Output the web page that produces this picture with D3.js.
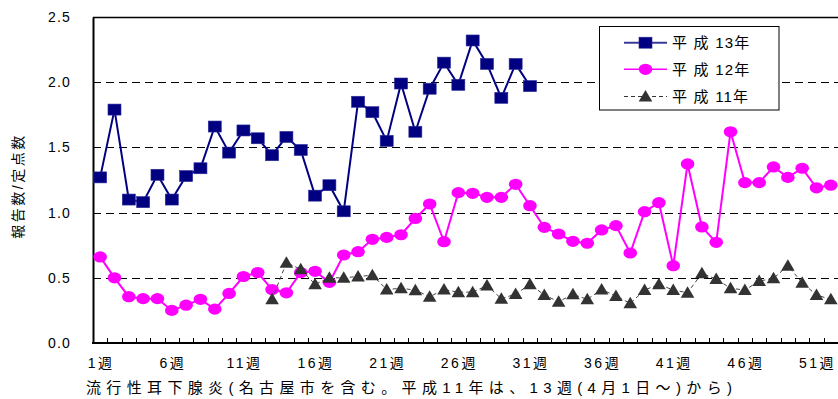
<!DOCTYPE html>
<html><head><meta charset="utf-8">
<script src="https://cdn.jsdelivr.net/npm/d3@7"></script>
<style>
body{margin:0;background:#fff;}
svg{display:block;}
text{font-family:"Liberation Sans","Noto Sans CJK JP",sans-serif;fill:#000;}
</style></head><body>
<script>
const weeks = d3.range(1, 53);
const xLabelWeeks = [1, 6, 11, 16, 21, 26, 31, 36, 41, 46, 51];
const yTicks = [0, 0.5, 1.0, 1.5, 2.0, 2.5];
const seriesNames = ["平 成 13年", "平 成 12年", "平 成 11年"];

// 平成13年: weeks 1-31
const h13 = [1.27,1.79,1.10,1.08,1.29,1.10,1.28,1.34,1.66,1.46,1.63,1.57,1.44,1.58,1.48,1.13,1.21,1.01,1.85,1.77,1.55,1.99,1.62,1.95,2.15,1.98,2.32,2.14,1.88,2.14,1.97];
// 平成12年: weeks 1-52
const h12 = [0.66,0.50,0.355,0.34,0.34,0.25,0.29,0.335,0.26,0.38,0.51,0.54,0.41,0.385,0.54,0.55,0.465,0.675,0.70,0.795,0.81,0.83,0.955,1.066,0.777,1.153,1.148,1.117,1.117,1.217,1.053,0.887,0.836,0.78,0.765,0.867,0.90,0.69,1.007,1.076,0.593,1.373,0.89,0.772,1.62,1.23,1.23,1.35,1.27,1.34,1.19,1.21];
// 平成11年: weeks 13-52
const h11Start = 13;
const h11 = [0.335,0.616,0.565,0.45,0.50,0.50,0.51,0.52,0.41,0.42,0.405,0.355,0.41,0.39,0.39,0.44,0.34,0.375,0.45,0.368,0.317,0.373,0.335,0.41,0.36,0.304,0.406,0.45,0.406,0.386,0.534,0.49,0.42,0.406,0.475,0.496,0.593,0.462,0.368,0.335];

const W = 838, H = 399;
const L = 93, R = 838, T = 17, B = 343;
const svg = d3.select("body").append("svg").attr("width", W).attr("height", H);

const x = d3.scaleBand().domain(weeks).range([L, R]).padding(0);
const y = d3.scaleLinear().domain([0, 2.5]).range([B, T]);
const cx = w => x(w) + x.bandwidth() / 2;

// gridlines
svg.append("g").selectAll("line").data(yTicks.filter(v => v > 0 && v < 2.5)).join("line")
  .attr("x1", L).attr("x2", R).attr("y1", d => Math.round(y(d)) + 0.5).attr("y2", d => Math.round(y(d)) + 0.5)
  .attr("stroke", "#000").attr("stroke-width", 1).attr("stroke-dasharray", "8,5");
// top border
svg.append("line").attr("x1", L).attr("x2", R).attr("y1", Math.round(y(2.5)) + 0.5).attr("y2", Math.round(y(2.5)) + 0.5)
  .attr("stroke", "#000").attr("stroke-width", 1.5);

// y axis
const yAxis = d3.axisLeft(y).tickValues(yTicks).tickSize(0).tickPadding(0).tickFormat(d3.format(".1f"));
const gy = svg.append("g").attr("transform", `translate(${L},0)`).call(yAxis);
gy.select(".domain").attr("stroke", "#000").attr("stroke-width", 2);
gy.selectAll("text").attr("x", -22).attr("font-size", 14).attr("letter-spacing", 1.2)
  .style("font-family", "Liberation Sans, sans-serif");

// x axis
const xAxis = d3.axisBottom(x).tickSize(0).tickValues(xLabelWeeks).tickFormat(d => d + "週");
const gx = svg.append("g").attr("transform", `translate(0,${B})`).call(xAxis);
gx.select(".domain").remove();
gx.selectAll("text").attr("y", 15).attr("font-size", 14).attr("letter-spacing", 2.5).attr("dx", 1);
svg.append("line").attr("x1", L - 1).attr("x2", R).attr("y1", B).attr("y2", B).attr("stroke", "#000").attr("stroke-width", 2);
// tick marks at band boundaries (inward)
const bounds = weeks.map(w => x(w)).concat([x(52) + x.bandwidth()]).slice(1);
svg.append("g").selectAll("line").data(bounds).join("line")
  .attr("x1", d => Math.round(d) + 0.5).attr("x2", d => Math.round(d) + 0.5)
  .attr("y1", B).attr("y2", B - 5).attr("stroke", "#000").attr("stroke-width", 1);

// series
const line = d3.line().x(d => cx(d.w)).y(d => y(d.v));
const d13 = h13.map((v, i) => ({w: i + 1, v}));
const d12 = h12.map((v, i) => ({w: i + 1, v}));
const d11 = h11.map((v, i) => ({w: i + h11Start, v}));

function sq(g, px, py, c) {
  g.append("rect").attr("x", px - 6.5).attr("y", py - 5.5).attr("width", 13).attr("height", 11).attr("fill", c).attr("stroke", "#2a2a9a").attr("stroke-width", 0.6);
}
function circ(g, px, py, c) {
  g.append("ellipse").attr("cx", px).attr("cy", py).attr("rx", 6.8).attr("ry", 5.6).attr("fill", c);
}
function tri(g, px, py, c) {
  g.append("path").attr("d", `M${px},${py - 6.5}L${px + 6.8},${py + 5}L${px - 6.8},${py + 5}Z`).attr("fill", c);
}

const g13 = svg.append("g");
g13.append("path").datum(d13).attr("d", line).attr("fill", "none").attr("stroke", "#000080").attr("stroke-width", 2);
d13.forEach(d => sq(g13, cx(d.w), y(d.v), "#000080"));

const g12 = svg.append("g");
g12.append("path").datum(d12).attr("d", line).attr("fill", "none").attr("stroke", "#FF00FF").attr("stroke-width", 2);
d12.forEach(d => circ(g12, cx(d.w), y(d.v), "#FF00FF"));

const g11 = svg.append("g");
g11.append("path").datum(d11).attr("d", line).attr("fill", "none").attr("stroke", "#444").attr("stroke-width", 1).attr("stroke-dasharray", "4,3");
d11.forEach(d => tri(g11, cx(d.w), y(d.v), "#333333"));

// legend
const lg = svg.append("g");
lg.append("rect").attr("x", 599.5).attr("y", 26.5).attr("width", 179.5).attr("height", 83.5).attr("fill", "#fff").attr("stroke", "#000").attr("stroke-width", 1);
const ly = [42.7, 69.3, 96.5];
lg.append("line").attr("x1", 624).attr("x2", 667).attr("y1", ly[0]).attr("y2", ly[0]).attr("stroke", "#3a3a9a").attr("stroke-width", 2);
sq(lg, 645.5, ly[0], "#000080");
lg.append("line").attr("x1", 624).attr("x2", 667).attr("y1", ly[1]).attr("y2", ly[1]).attr("stroke", "#FF00FF").attr("stroke-width", 1.5);
circ(lg, 645.5, ly[1], "#FF00FF");
lg.append("line").attr("x1", 624).attr("x2", 667).attr("y1", ly[2]).attr("y2", ly[2]).attr("stroke", "#333").attr("stroke-width", 1).attr("stroke-dasharray", "4,3");
tri(lg, 645.5, ly[2], "#333333");
seriesNames.forEach((s, i) => {
  lg.append("text").attr("x", 672).attr("y", ly[i] + 5.5).attr("font-size", 15).attr("letter-spacing", 1.2).text(s);
});

// y title
svg.append("text").attr("transform", "translate(23,186) rotate(-90)").attr("text-anchor", "middle")
  .attr("font-size", 14).attr("letter-spacing", 2.5).text("報告数/定点数");

// caption
svg.append("text").attr("x", 86).attr("y", 393).attr("font-size", 15)
  .attr("textLength", 646).attr("lengthAdjust", "spacing")
  .text("流行性耳下腺炎(名古屋市を含む。平成11年は、13週(4月1日～)から)");
</script>
</body></html>
